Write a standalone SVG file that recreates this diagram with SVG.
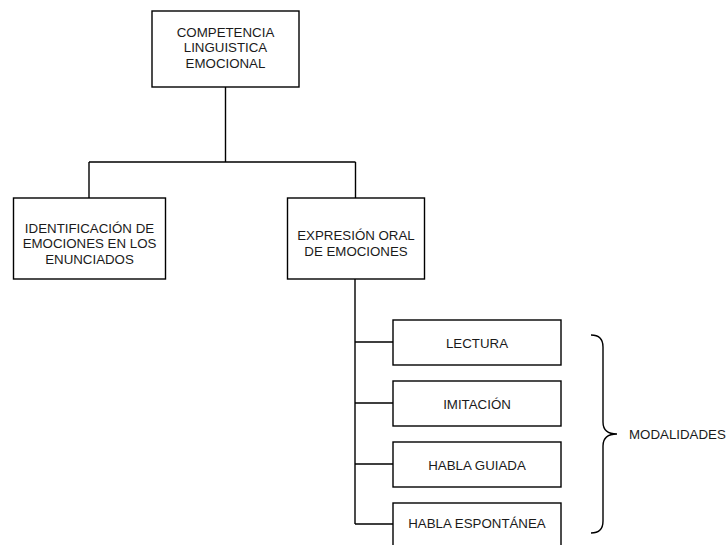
<svg xmlns="http://www.w3.org/2000/svg" width="727" height="545" viewBox="0 0 727 545">
<style>
.box{fill:#fff;stroke:#000;stroke-width:1.4}
.t{font-family:"Liberation Sans",Arial,sans-serif;font-size:13.3px;fill:#1a1a1a;text-anchor:middle}
.c{fill:none;stroke:#000;stroke-width:1.4}
</style>
<rect width="727" height="545" fill="#fff"/>
<g id="connectors">
<path class="c" d="M225.5,87 V162 M89,162 H355.5 M89,162 V198 M355.5,162 V198"/>
<path class="c" d="M355,279 V524 M355,342 H393 M355,403 H393 M355,464 H393 M355,524 H393"/>
</g>
<g id="n1">
<rect class="box" x="152" y="11" width="147" height="76"/>
<text class="t" x="225.5" y="36.5">COMPETENCIA</text>
<text class="t" x="225.5" y="52">LINGUISTICA</text>
<text class="t" x="225.5" y="67.5">EMOCIONAL</text>
</g>
<g id="n2">
<rect class="box" x="13.5" y="198" width="152" height="81"/>
<text class="t" x="89.5" y="232.5">IDENTIFICACIÓN DE</text>
<text class="t" x="89.5" y="248">EMOCIONES EN LOS</text>
<text class="t" x="89.5" y="263.5">ENUNCIADOS</text>
</g>
<g id="n3">
<rect class="box" x="287.5" y="198" width="137" height="81"/>
<text class="t" x="356" y="240">EXPRESIÓN ORAL</text>
<text class="t" x="356" y="255.5">DE EMOCIONES</text>
</g>
<g id="n4">
<rect class="box" x="393" y="320" width="168" height="45"/>
<text class="t" x="477" y="347.5">LECTURA</text>
</g>
<g id="n5">
<rect class="box" x="393" y="381" width="168" height="45"/>
<text class="t" x="477" y="408.5">IMITACIÓN</text>
</g>
<g id="n6">
<rect class="box" x="393" y="442" width="168" height="45"/>
<text class="t" x="477" y="469.5">HABLA GUIADA</text>
</g>
<g id="n7">
<rect class="box" x="393" y="503" width="168" height="45"/>
<text class="t" x="477" y="528">HABLA ESPONTÁNEA</text>
</g>
<g id="brace">
<path class="c" d="M591,335 Q603,335 603,347 V422 Q603,434 617,434 Q603,434 603,446 V521 Q603,533 591,533"/>
<text class="t" style="text-anchor:start" x="629" y="439">MODALIDADES</text>
</g>
</svg>
